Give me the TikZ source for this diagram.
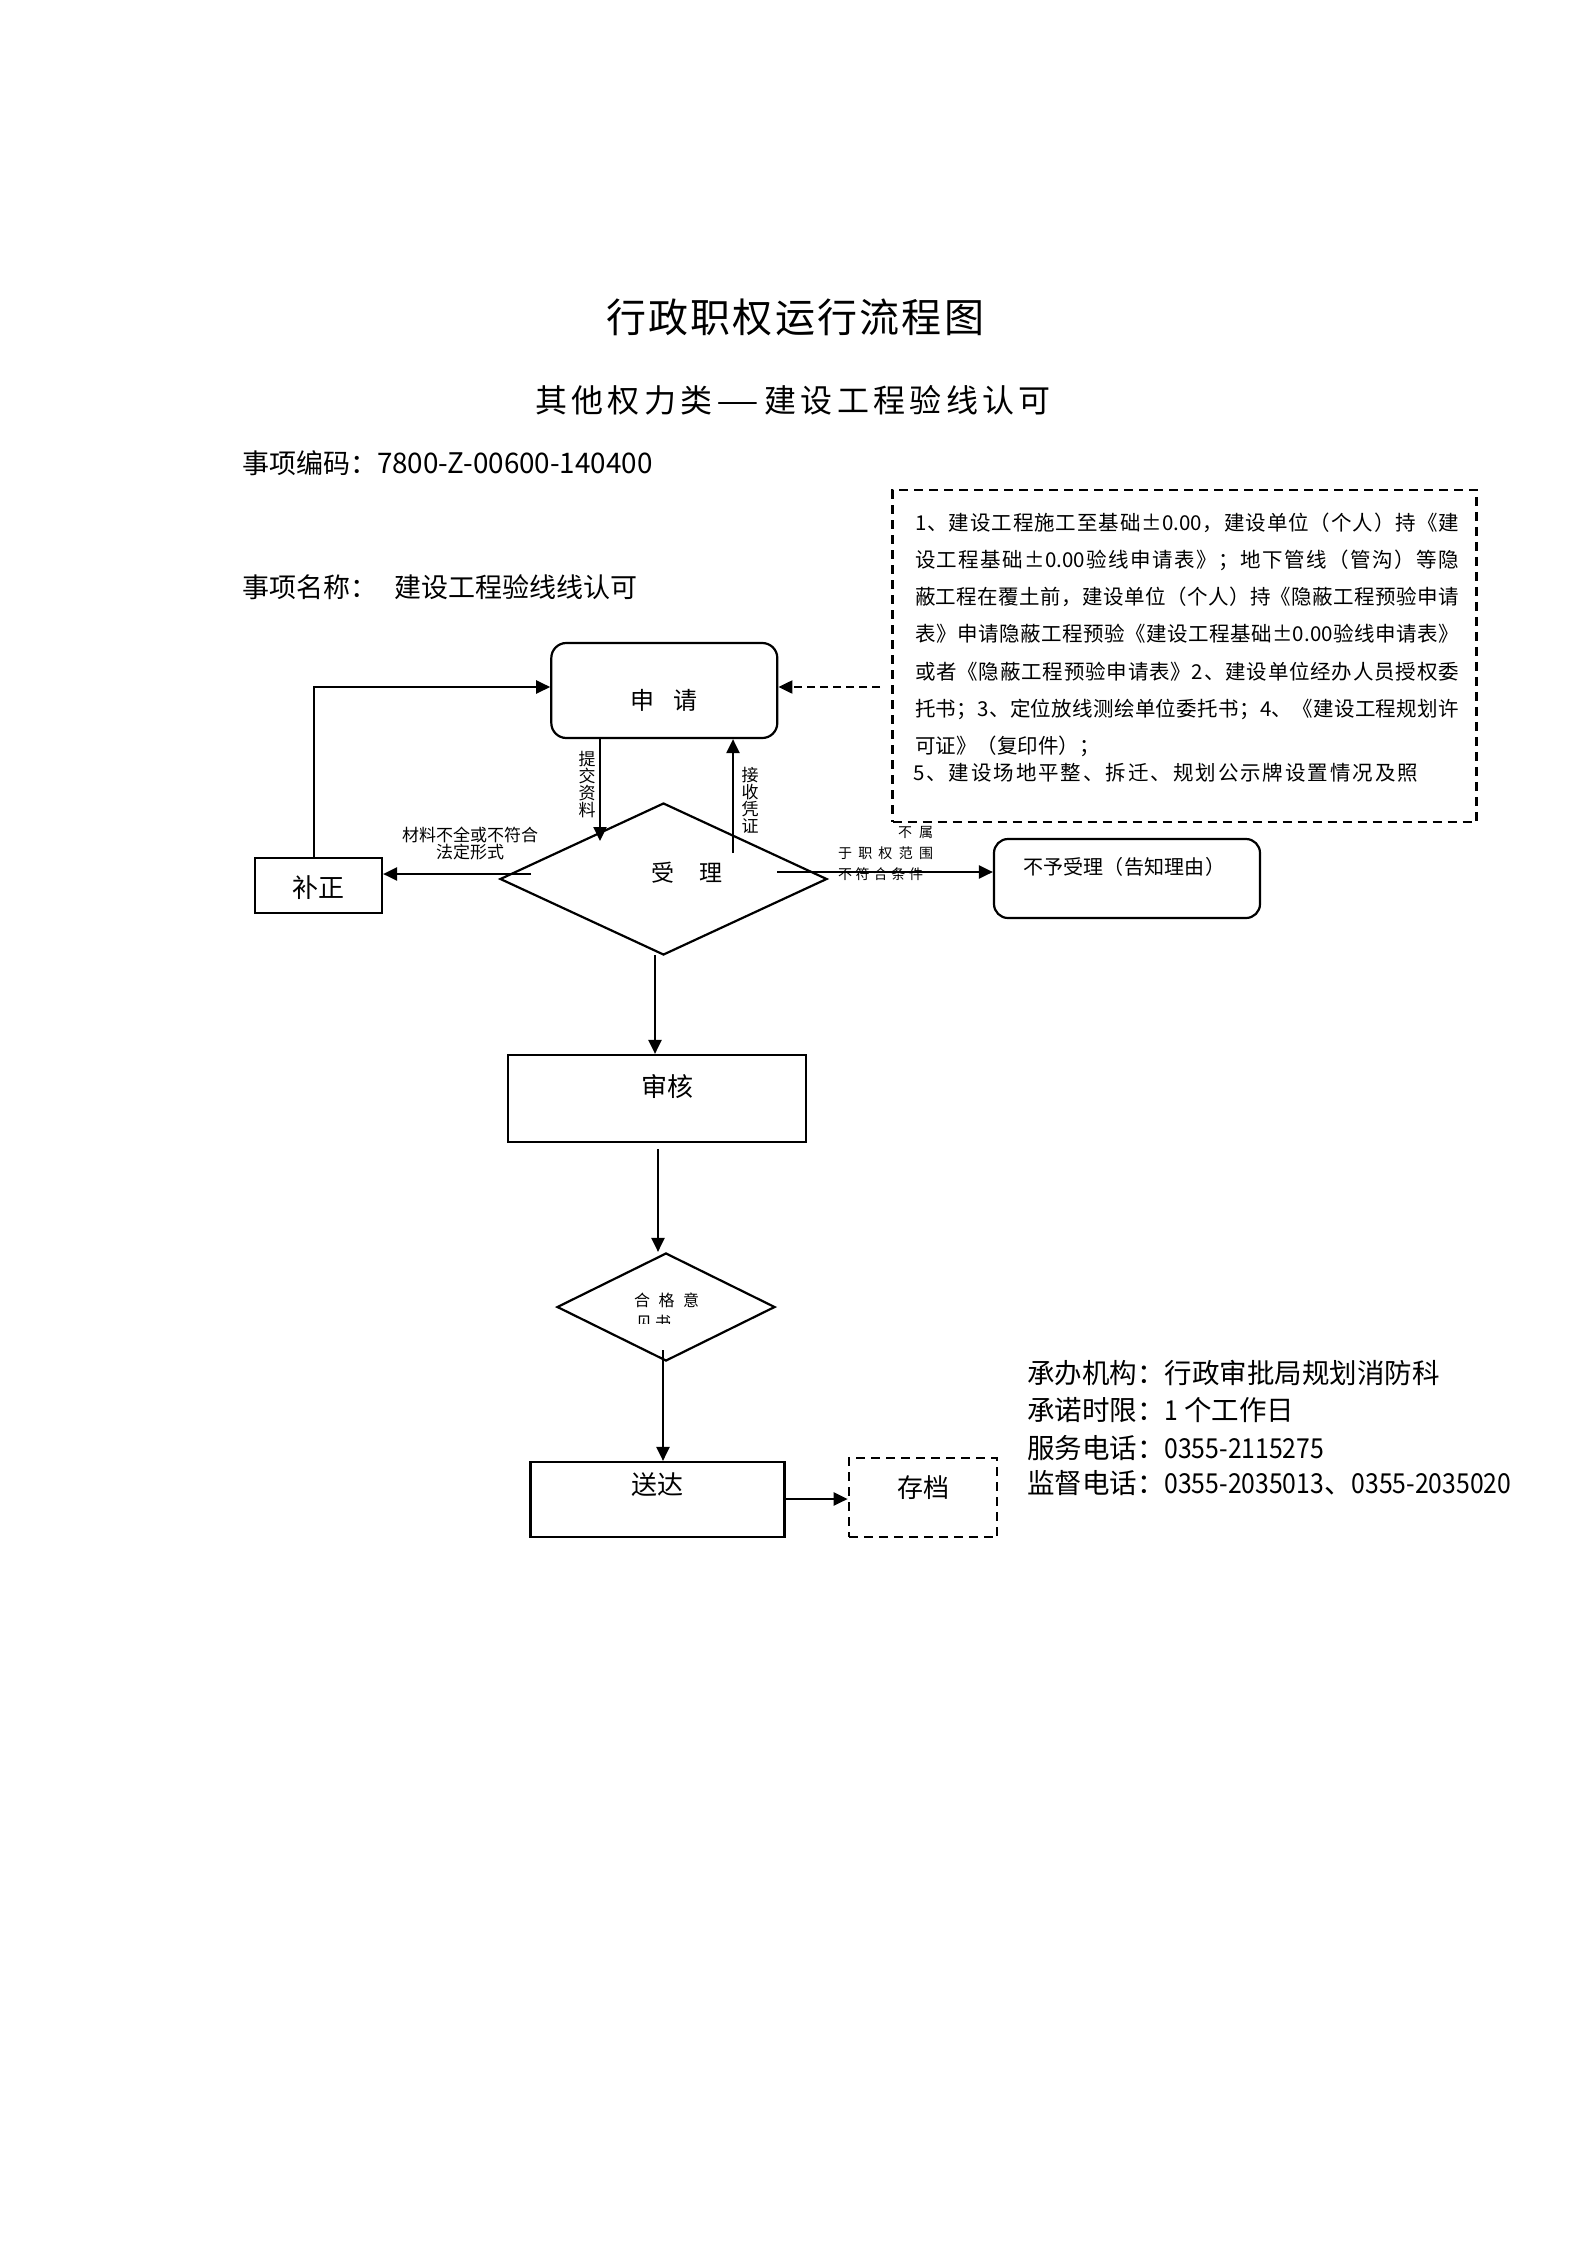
\documentclass[tikz,border=0pt]{standalone}
\usepackage{fontspec}
\usepackage{graphicx}
\setmainfont{Noto Sans CJK SC}
\usetikzlibrary{arrows.meta,shapes.geometric}
\newcommand\myfs[1]{\fontsize{#1pt}{#1pt}\selectfont}
\def\spreadtxt#1{\sprA#1\sprend}
\def\sprA#1#2\sprend{#1\if\relax\detokenize{#2}\relax\else\hfill\sprA#2\sprend\fi}
\newcommand\spbox[2]{\hbox to #1pt{\spreadtxt{#2}}}
\newcommand\nd[1]{\scalebox{0.9}[1]{#1}}
\tikzset{
  box/.style={draw, line width=2.2pt, inner sep=0pt},
  dbox/.style={draw, line width=2.2pt, inner sep=0pt, dash pattern=on 9pt off 6pt},
  arr/.style={line width=2.2pt, -{Triangle[length=14pt,width=13pt]}},
  txt/.style={inner sep=0pt, outer sep=0pt},
  noteline/.style={txt, anchor=west, font=\myfs{20.5}},
  infoline/.style={txt, anchor=west, font=\myfs{27.5}},
}
\begin{document}
\begin{tikzpicture}[x=1pt,y=-1pt]
\fill[white] (0,0) rectangle (1587,2245);
\useasboundingbox (0,0) rectangle (1587,2245);

% headings
\node[txt, font=\myfs{40}] (title) at (795,317) {\spbox{378}{行政职权运行流程图}};
\node[txt, font=\myfs{32}] (subtitle) at (793,400) {\spbox{516}{其他权力类{\scalebox{1.5}[1]{—}}建设工程验线认可}};
\node[txt, anchor=west, font=\myfs{27}] (code) at (242,463) {事项编码：\scalebox{1.03}[1.05]{7800-Z-00600-140400}};
\node[txt, anchor=west, font=\myfs{27}] (iname) at (242,587) {事项名称：\hspace{18pt}建设工程验线线认可};

% notes box
\node[dbox, minimum width=584pt, minimum height=332pt] (notes) at (1184.5,656) {};
\node[noteline] (nl1) at (915,523) {\spbox{544}{1、建设工程施工至基础{±0.00}，建设单位（个人）持《建}};
\node[noteline] (nl2) at (915,560) {\spbox{544}{设工程基础{±0.00}验线申请表》；地下管线（管沟）等隐}};
\node[noteline] (nl3) at (915,597) {\spbox{544}{蔽工程在覆土前，建设单位（个人）持《隐蔽工程预验申请}};
\node[noteline] (nl4) at (915,634) {\spbox{544}{表》申请隐蔽工程预验《建设工程基础{±0.00}验线申请表》}};
\node[noteline] (nl5) at (915,672) {\spbox{544}{或者《隐蔽工程预验申请表》2、建设单位经办人员授权委}};
\node[noteline] (nl6) at (915,709) {\spbox{544}{托书；3、定位放线测绘单位委托书；4、《建设工程规划许}};
\node[noteline] (nl7) at (915,746) {\spbox{176}{可证》（复印件）；}};
\node[noteline] (nl8) at (913,773) {\spbox{505}{5、建设场地平整、拆迁、规划公示牌设置情况及照}};

% apply
\node[box, rounded corners=15pt, minimum width=226pt, minimum height=95pt] (sq) at (664.3,690.5) {};
\node[txt, font=\myfs{24}] (sqt) at (664,700) {申\hspace{19pt}请};

% correction
\node[box, minimum width=127pt, minimum height=55pt] (bz) at (318.5,885.5) {};
\node[txt, font=\myfs{26}] (bzt) at (318,888) {补正};

% accept diamond
\node[box, diamond, minimum width=327pt, minimum height=152pt] (sl) at (663.5,879) {};
\node[txt, font=\myfs{23}] (slt) at (687,873) {受\hspace{25pt}理};

% reject box
\node[box, rounded corners=14pt, minimum width=266pt, minimum height=79pt] (bsl) at (1127,878.5) {};
\node[txt, font=\myfs{20}] (bslt) at (1124,867) {\spbox{202}{不予受理（告知理由）}};

% review
\node[box, minimum width=298pt, minimum height=87pt] (sh) at (657,1098.5) {};
\node[txt, font=\myfs{26}] (sht) at (667.5,1087) {审核};

% qualified opinion diamond
\node[box, diamond, minimum width=218pt, minimum height=108pt] (hg) at (666,1307) {};
\node[txt, font=\myfs{16}] (hgt) at (666.5,1300) {\spbox{65}{合格意}};
\begin{scope}
  \clip (600,1305) rectangle (720,1323.5);
  \node[txt, font=\myfs{16}] (hgt2) at (653.5,1322) {\spbox{35}{见书}};
\end{scope}

% delivery
\node[box, minimum width=254pt, minimum height=75pt] (sd) at (657.5,1499.5) {};
\node[txt, font=\myfs{26}] (sdt) at (657,1485) {送达};

% archive
\node[dbox, minimum width=148.5pt, minimum height=79pt] (cd) at (923,1497.5) {};
\node[txt, font=\myfs{26}] (cdt) at (923,1488) {存档};

% info block
\node[infoline] (inf1) at (1027,1373) {承办机构：行政审批局规划消防科};
\node[infoline] (inf2) at (1027,1410) {承诺时限：\nd{1} 个工作日};
\node[infoline] (inf3) at (1027,1448) {服务电话：\nd{0355-2115275}};
\node[infoline] (inf4) at (1027,1483) {监督电话：\nd{0355-2035013}、\nd{0355-2035020}};

% connectors
\coordinate (dstart) at (880,687);
\draw[arr, dash pattern=on 8pt off 5pt] (dstart) -- (dstart -| sq.east);
\coordinate (loopx) at (314,687);
\draw[arr] (loopx |- bz.north) -- (loopx) -- (loopx -| sq.west);

\coordinate (tjend) at (600,841);
\draw[arr] (tjend |- sq.south) -- (tjend);
\node[txt, font=\myfs{17}, align=center] (tjl) at (587,784.5) {\baselineskip=21.5pt 提\\交\\资\\料};

\coordinate (jsstart) at (733,853);
\draw[arr] (jsstart) -- (jsstart |- sq.south);
\node[txt, font=\myfs{17}, align=center] (jsl) at (750,800) {\baselineskip=21.3pt 接\\收\\凭\\证};

\coordinate (lstart) at (531,874);
\draw[arr] (lstart) -- (lstart -| bz.east);
\node[txt, font=\myfs{17}, align=center] (ll) at (470,843.5) {\baselineskip=21pt 材料不全或不符合\\法定形式};

\coordinate (rstart) at (777,872);
\draw[arr] (rstart) -- (rstart -| bsl.west);
\node[txt, anchor=east, font=\myfs{14}] (rl1) at (933,832) {\spbox{35}{不属}};
\node[txt, anchor=west, font=\myfs{14}] (rl2) at (838,853) {\spbox{95}{于职权范围}};
\node[txt, anchor=west, font=\myfs{14}] (rl3) at (838,874) {\spbox{85}{不符合条件}};

\coordinate (a1s) at (655,955);
\draw[arr] (a1s) -- (a1s |- sh.north);
\coordinate (a2s) at (658,1149);
\draw[arr] (a2s) -- (a2s |- hg.north);
\coordinate (a3s) at (663,1350);
\draw[arr] (a3s) -- (a3s |- sd.north);
\coordinate (a4s) at (784.6,1499);
\draw[arr] (a4s) -- (a4s -| cd.west);
\end{tikzpicture}
\end{document}
